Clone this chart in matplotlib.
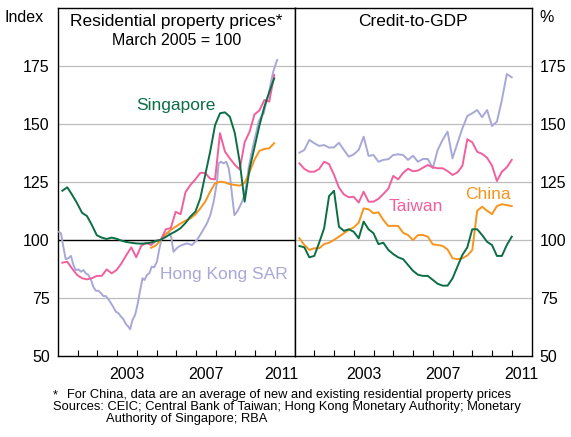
import numpy as np
import matplotlib
matplotlib.use("Agg")
import matplotlib.pyplot as plt

plt.rcParams['font.family'] = ['Liberation Sans', 'DejaVu Sans']

# ---------------- data ----------------
# Left panel: residential property prices (index, March 2005 = 100)
q_left = 2000.22 + 0.25 * np.arange(44)
sg_prices = [121.1, 122.6, 119.3, 115.7, 111.6, 110.2, 106.3, 101.9, 100.9, 100.3,
             100.9, 100.4, 99.6, 99.0, 98.7, 98.4, 98.3, 98.4, 98.8, 99.4,
             100.0, 101.2, 102.5, 103.6, 105.0, 107.2, 110.0, 112.1, 117.8, 127.9,
             137.9, 149.4, 154.5, 154.9, 153.0, 146.0, 133.5, 116.4, 130.5, 139.8,
             149.2, 157.3, 163.7, 169.5]
tw_prices = [90.1, 90.5, 87.5, 84.8, 83.4, 82.9, 83.4, 84.4, 84.4, 87.2,
             85.5, 86.9, 89.8, 93.4, 96.7, 92.4, 97.3, 98.7, 97.7, 99.6,
             100.0, 104.5, 105.0, 112.0, 111.0, 120.5, 123.6, 126.0, 128.8, 128.8,
             126.3, 126.0, 145.9, 138.0, 135.0, 132.3, 130.3, 142.0, 146.5, 154.0,
             155.7, 160.2, 159.5, 171.0]
cn_prices = [96.5, 97.5, 100.0, 102.3, 104.2, 105.6, 107.0, 108.2, 109.2, 110.9,
             113.5, 116.4, 120.7, 124.3, 125.0, 124.7, 123.9, 123.6, 123.3, 124.5,
             129.1, 134.5, 138.3, 139.1, 139.4, 141.6]
hk_dates = [2000.05, 2000.15, 2000.27, 2000.39, 2000.52, 2000.66, 2000.78, 2000.90,
            2001.03, 2001.17, 2001.29, 2001.41, 2001.54, 2001.68, 2001.79, 2001.92,
            2002.05, 2002.19, 2002.30, 2002.43, 2002.56, 2002.69, 2002.81, 2002.93,
            2003.07, 2003.20, 2003.32, 2003.44, 2003.57, 2003.66, 2003.78, 2003.91,
            2004.05, 2004.17, 2004.29, 2004.39, 2004.51, 2004.63, 2004.76, 2004.88,
            2005.02, 2005.13, 2005.24, 2005.35, 2005.48, 2005.61, 2005.74, 2005.86, 2005.98,
            2006.12, 2006.29, 2006.54, 2006.80,
            2007.05, 2007.31, 2007.56, 2007.73, 2007.90,
            2008.07, 2008.15, 2008.27, 2008.40, 2008.54, 2008.66, 2008.74, 2008.83, 2008.95,
            2009.09, 2009.22, 2009.34, 2009.46, 2009.56, 2009.67, 2009.80, 2009.93,
            2010.07, 2010.18, 2010.31, 2010.44, 2010.57, 2010.69, 2010.81, 2010.92,
            2011.03, 2011.12]
hk_prices = [103.4, 102.8, 97.0, 91.6, 92.0, 93.0, 89.1, 86.9,
             87.2, 86.2, 86.9, 85.5, 84.8, 82.6, 79.7, 78.0,
             78.0, 76.9, 75.7, 75.7, 74.3, 72.6, 70.9, 69.0,
             68.3, 66.8, 65.7, 63.7, 62.5, 61.4, 65.4, 67.5,
             72.6, 78.3, 83.4, 82.6, 84.8, 85.5, 88.4, 88.1,
             90.5, 95.6, 99.9, 102.0, 102.5, 103.4, 101.3, 94.8, 95.9,
             97.0, 97.7, 98.4, 97.7,
             99.9, 103.4, 107.1, 110.6, 116.4,
             125.0, 132.9, 133.6, 132.9, 133.6, 130.8, 126.5, 119.3, 110.6,
             112.1, 114.2, 116.4, 119.3, 123.6, 130.8, 136.5, 141.6,
             146.6, 150.9, 153.0, 154.5, 159.5, 162.4, 168.1, 172.4,
             175.3, 177.5]

# Right panel: credit-to-GDP (%)
q_right = 2000.25 + 0.25 * np.arange(44)
hk_credit = [137.5, 138.7, 143.0, 141.6, 140.4, 140.8, 139.7, 139.8, 141.8, 138.7,
             135.8, 136.8, 138.7, 144.4, 136.1, 136.5, 133.6, 134.4, 134.7, 136.5,
             136.8, 136.5, 134.4, 136.2, 133.6, 134.8, 134.8, 130.8, 138.7, 143.0,
             146.6, 135.1, 141.6, 148.0, 153.3, 154.5, 155.9, 152.8, 155.9, 149.0,
             150.9, 160.2, 171.4, 170.0]
tw_credit = [132.9, 130.5, 129.3, 129.3, 130.5, 133.6, 132.6, 128.0, 122.5, 119.5,
             118.3, 118.5, 116.0, 120.7, 116.4, 116.4, 117.6, 119.7, 122.0, 127.5,
             126.0, 128.8, 130.6, 129.5, 129.8, 131.0, 132.2, 131.2, 130.8, 130.8,
             129.6, 127.9, 129.0, 131.8, 143.3, 142.0, 137.9, 137.0, 135.3, 132.0,
             125.3, 129.3, 131.2, 134.4]
sg_credit = [97.3, 96.7, 92.4, 93.0, 98.7, 104.9, 118.8, 121.1, 105.6, 103.8,
             104.5, 103.4, 100.6, 107.8, 104.5, 102.8, 98.1, 98.7, 95.6, 93.8,
             92.4, 91.6, 89.1, 86.6, 84.9, 84.4, 84.4, 82.7, 81.0, 80.2,
             80.2, 83.3, 88.4, 93.4, 96.7, 104.5, 104.5, 102.0, 99.1, 97.7,
             93.0, 93.0, 97.7, 101.3]
cn_credit = [100.6, 97.7, 95.6, 96.3, 96.3, 98.1, 98.7, 99.9, 101.3, 102.8,
             104.2, 105.3, 107.3, 113.5, 113.1, 111.4, 111.8, 108.5, 105.9, 106.0,
             105.9, 103.0, 102.0, 99.8, 102.0, 102.0, 101.3, 98.0, 97.7, 97.3,
             95.8, 92.0, 91.6, 92.0, 93.2, 95.5, 112.5, 114.2, 112.5, 111.0,
             114.5, 115.3, 114.9, 114.5]

y_ticks = [50, 75, 100, 125, 150, 175]
year_ticks = list(range(2001, 2012))
year_labels = ['2003', '2007', '2011']

# ---------------- style ----------------
C_SG = '#0b6e45'
C_TW = '#f0609e'
C_CN = '#f7941d'
C_HK = '#a8a8d8'
C_GRID = '#bdbdbd'
LW = 1.4

fig = plt.figure(figsize=(5.71, 4.37), dpi=100)
axL = fig.add_axes([58 / 571, 1 - 355.7 / 437, 236.5 / 571, 348 / 437])
axR = fig.add_axes([294.5 / 571, 1 - 355.7 / 437, 237 / 571, 348 / 437])

for ax in (axL, axR):
    ax.set_xlim(2000, 2012)
    ax.set_ylim(50, 200)
    for v in y_ticks[1:]:
        col = 'black' if (ax is axL and v == 100) else C_GRID
        ax.axhline(v, color=col, lw=0.9 if col != 'black' else 1.0, zorder=1)
    for s in ax.spines.values():
        s.set_color('black')
        s.set_linewidth(1.0)
    ax.set_xticks(year_ticks)
    ax.set_xticklabels([])
    ax.tick_params(axis='x', which='major', direction='in', length=4.5, width=0.8, color='black')
    ax.set_xticks([2003.5, 2007.5, 2011.5], minor=True)
    ax.tick_params(axis='x', which='minor', length=0, pad=8, labelsize=11.5)
    ax.set_yticks(y_ticks)
    ax.tick_params(axis='y', length=0, labelsize=11.5)

axL.set_xticks([2003.5, 2007.5, 2011.35], minor=True)
axL.set_xticklabels(year_labels, minor=True)
axR.set_xticklabels(year_labels, minor=True)
axL.tick_params(axis='y', pad=6)
axR.yaxis.tick_right()
axR.tick_params(axis='y', pad=6, length=0)

# lines
axL.plot(hk_dates, hk_prices, color=C_HK, lw=LW, zorder=3)
axL.plot(q_left[18:], cn_prices, color=C_CN, lw=LW, zorder=4)
axL.plot(q_left, tw_prices, color=C_TW, lw=LW, zorder=5)
axL.plot(q_left, sg_prices, color=C_SG, lw=LW, zorder=6)

axR.plot(q_right, hk_credit, color=C_HK, lw=LW, zorder=3)
axR.plot(q_right, cn_credit, color=C_CN, lw=LW, zorder=4)
axR.plot(q_right, tw_credit, color=C_TW, lw=LW, zorder=5)
axR.plot(q_right, sg_credit, color=C_SG, lw=LW, zorder=6)

# titles
axL.text(0.5, 0.959, 'Residential property prices*', transform=axL.transAxes,
         ha='center', va='center', fontsize=12.5)
axL.text(0.5, 0.907, 'March 2005 = 100', transform=axL.transAxes,
         ha='center', va='center', fontsize=11.5)
axR.text(0.5, 0.959, 'Credit-to-GDP', transform=axR.transAxes,
         ha='center', va='center', fontsize=12.5)

# series labels
axL.text(2006.0, 158.0, 'Singapore', color=C_SG, ha='center', va='center', fontsize=12.5)
axL.text(2008.44, 84.8, 'Hong Kong SAR', color=C_HK, ha='center', va='center', fontsize=12.5)
axR.text(2006.14, 114.5, 'Taiwan', color=C_TW, ha='center', va='center', fontsize=12.5)
axR.text(2009.78, 119.5, 'China', color=C_CN, ha='center', va='center', fontsize=12.5)

# axis unit labels
fig.text(24.5 / 571, 1 - 17 / 437, 'Index', ha='center', va='center', fontsize=11.5)
fig.text(547 / 571, 1 - 17 / 437, '%', ha='center', va='center', fontsize=11.5)

# footnotes
FN = 9.3
fig.text(53 / 571, 1 - 395 / 437, '*', ha='left', va='center', fontsize=FN)
fig.text(67 / 571, 1 - 395 / 437,
         'For China, data are an average of new and existing residential property prices',
         ha='left', va='center', fontsize=FN)
fig.text(53 / 571, 1 - 407 / 437,
         'Sources: CEIC; Central Bank of Taiwan; Hong Kong Monetary Authority; Monetary',
         ha='left', va='center', fontsize=FN)
fig.text(106 / 571, 1 - 419 / 437, 'Authority of Singapore; RBA',
         ha='left', va='center', fontsize=FN)

fig.savefig('out.png', dpi=100)
